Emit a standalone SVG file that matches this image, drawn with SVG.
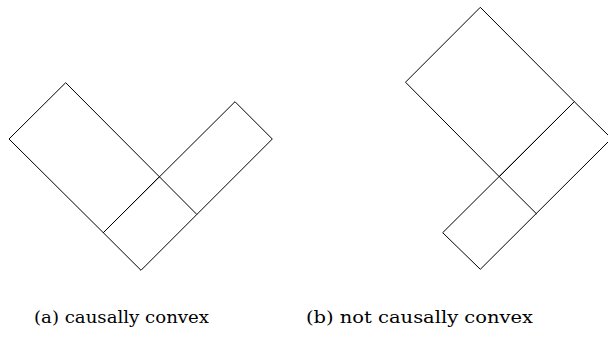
<svg xmlns="http://www.w3.org/2000/svg" width="608" height="338" viewBox="0 0 608 338">
<style>
.e{fill:none;stroke:#000;stroke-width:1;stroke-linejoin:miter}
.cap{font-family:"DejaVu Serif","Liberation Serif",serif;font-size:17.5px;fill:#000}
</style>
<rect width="608" height="338" fill="#fff"/>
<g id="fig-a">
<g id="a-rect1"><polygon class="e" points="9,139 65.7,82.7 159.3,176.7 103.3,232.7"/></g>
<g id="a-rect2"><polygon class="e" points="103.3,232.7 235,101.7 272.3,139 141,270.3"/></g>
<g id="a-lines"><line class="e" x1="159.3" y1="176.7" x2="196.7" y2="214.3"/></g>
</g>
<g id="fig-b">
<g id="b-rect1"><polygon class="e" points="405.5,82.2 480.3,7.3 574.3,101.7 499.3,176.7"/></g>
<g id="b-rect2"><polygon class="e" points="442.7,232.7 574.3,101.7 611.5,138.5 480.3,269.3"/></g>
<g id="b-lines"><line class="e" x1="499.3" y1="176.7" x2="536.7" y2="214"/></g>
</g>
<text class="cap" x="34" y="323" textLength="175" lengthAdjust="spacingAndGlyphs">(a) causally convex</text>
<text class="cap" x="306" y="323" textLength="227" lengthAdjust="spacingAndGlyphs">(b) not causally convex</text>
</svg>
